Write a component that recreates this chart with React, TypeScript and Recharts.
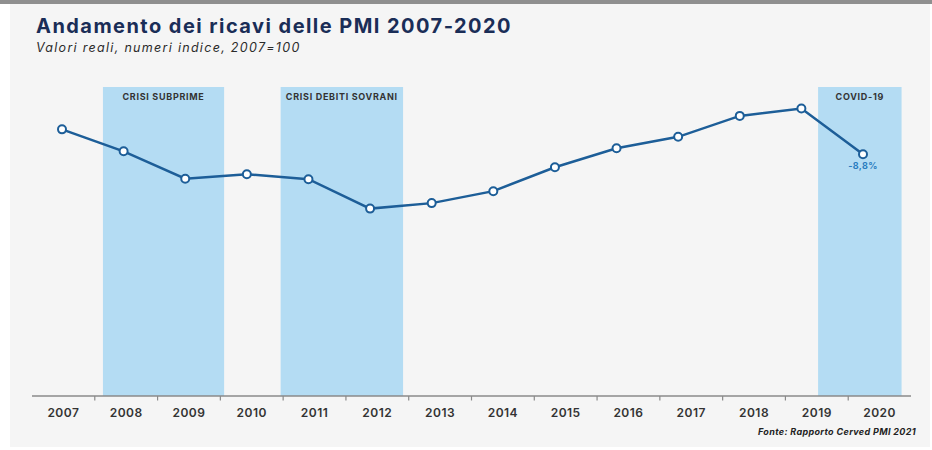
import { LineChart, Line, XAxis, YAxis, ReferenceArea, ReferenceLine, LabelList } from "recharts";

const years = [2007, 2008, 2009, 2010, 2011, 2012, 2013, 2014, 2015, 2016, 2017, 2018, 2019, 2020];
const revenueIndex = [100, 95.6, 90.1, 91.0, 90.0, 84.1, 85.2, 87.6, 92.4, 96.2, 98.5, 102.7, 104.2, 95.0];
const lastChangeLabel = "-8,8%";

const crisisBands = [
  { from: 2007.63, to: 2009.56, label: "CRISI SUBPRIME" },
  { from: 2010.46, to: 2012.41, label: "CRISI DEBITI SOVRANI" },
  { from: 2019.02, to: 2020.35, label: "COVID-19" },
];

const data = years.map((year, i) => ({
  year,
  value: revenueIndex[i],
  note: i === years.length - 1 ? lastChangeLabel : undefined,
}));

const Y_MIN = 46.5;
const Y_MAX = 108.5;
// tick marks sit between the year labels
const boundaryTicks = years.slice(1).map((y) => y - 0.5);

const FONT = "Inter, 'Open Sans', sans-serif";
const LINE = "#1d5e98";
const BAND = "#b4dcf3";
const AXIS = "#8a8a8a";

export default function App() {
  return (
    <div style={{ position: "relative", width: 932, height: 450, background: "#fff", fontFamily: FONT, overflow: "hidden" }}>
      <style>{"body{margin:0}"}</style>
      <div style={{ position: "absolute", left: 0, top: 0, width: 932, height: 4, background: "#8f8f8f" }} />
      <div style={{ position: "absolute", left: 10, top: 4, width: 920, height: 443, background: "#f5f5f5" }} />

      <div
        style={{
          position: "absolute",
          left: 36,
          top: 16,
          fontSize: 20,
          lineHeight: "20px",
          fontWeight: 700,
          letterSpacing: 1.45,
          color: "#1a2d57",
          whiteSpace: "nowrap",
        }}
      >
        Andamento dei ricavi delle PMI 2007-2020
      </div>
      <div
        style={{
          position: "absolute",
          left: 36,
          top: 41,
          fontSize: 12.5,
          lineHeight: "14px",
          fontStyle: "italic",
          letterSpacing: 1.3,
          color: "#2b2b2b",
          whiteSpace: "nowrap",
        }}
      >
        Valori reali, numeri indice, 2007=100
      </div>

      <div style={{ position: "absolute", left: 0, top: 0 }}>
        <LineChart width={932} height={450} data={data} margin={{ top: 87, right: 21, bottom: 24, left: 32 }}>
          <YAxis hide domain={[Y_MIN, Y_MAX]} allowDataOverflow />
          <XAxis
            xAxisId="lab"
            dataKey="year"
            type="number"
            domain={[2006.5, 2020.5]}
            ticks={years}
            interval={0}
            height={30}
            axisLine={{ stroke: AXIS, strokeWidth: 1.5 }}
            tickLine={false}
            tickMargin={6}
            tick={{ fill: "#333", fontSize: 12, fontWeight: 600, fontFamily: FONT, letterSpacing: 0.5 }}
          />
          <XAxis
            xAxisId="pts"
            dataKey="year"
            type="number"
            domain={[2007, 2020]}
            padding={{ left: 30, right: 48 }}
            hide
          />
          {crisisBands.map((b) => (
            <ReferenceArea
              key={b.label}
              xAxisId="lab"
              x1={b.from}
              x2={b.to}
              fill={BAND}
              fillOpacity={1}
              stroke="none"
              label={{
                value: b.label,
                position: "insideTop",
                offset: 7,
                fill: "#333",
                fontSize: 9,
                fontWeight: 700,
                fontFamily: FONT,
                letterSpacing: 0.7,
              }}
            />
          ))}
          {boundaryTicks.map((t) => (
            <ReferenceLine
              key={t}
              xAxisId="lab"
              segment={[
                { x: t, y: Y_MIN },
                { x: t, y: Y_MIN - 0.9 },
              ]}
              ifOverflow="visible"
              stroke={AXIS}
              strokeWidth={1.2}
            />
          ))}
          <Line
            xAxisId="pts"
            type="linear"
            dataKey="value"
            stroke={LINE}
            strokeWidth={2.5}
            dot={{ r: 4, fill: "#fff", stroke: LINE, strokeWidth: 2 }}
            activeDot={false}
            isAnimationActive={false}
          >
            <LabelList
              dataKey="note"
              position="bottom"
              offset={8}
              fill="#2a7cc0"
              fontSize={9}
              fontWeight={700}
              fontFamily={FONT}
              letterSpacing={0.4}
            />
          </Line>
        </LineChart>
      </div>

      <div
        style={{
          position: "absolute",
          right: 16,
          top: 426,
          fontSize: 9,
          lineHeight: "12px",
          fontWeight: 700,
          fontStyle: "italic",
          letterSpacing: 0.35,
          color: "#222",
          whiteSpace: "nowrap",
        }}
      >
        Fonte: Rapporto Cerved PMI 2021
      </div>
    </div>
  );
}
